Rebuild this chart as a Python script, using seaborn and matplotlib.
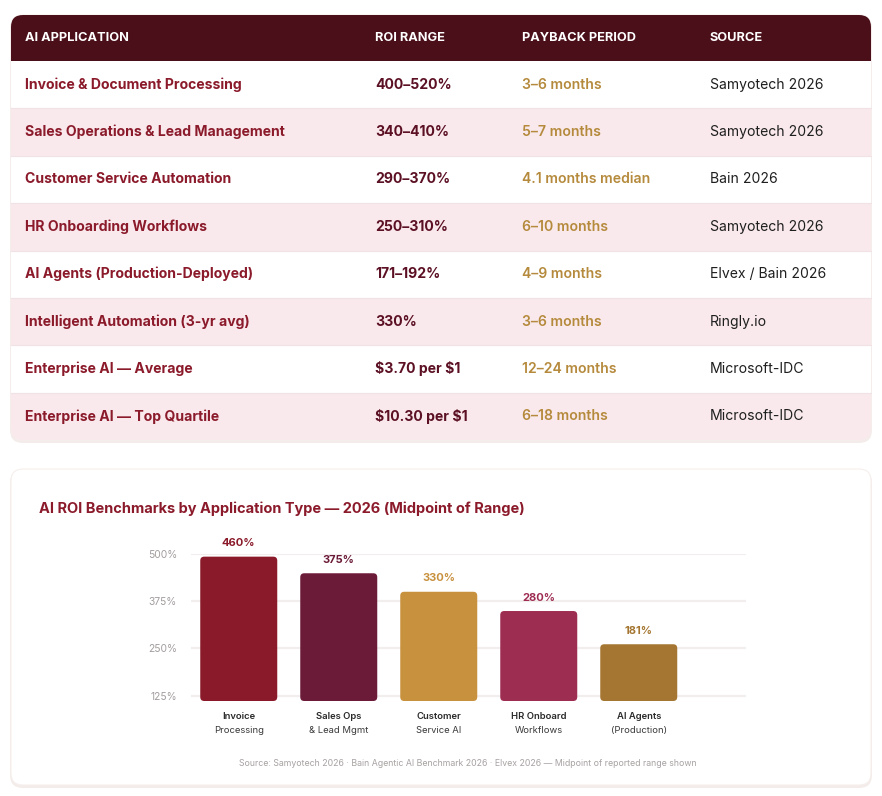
import numpy as np
import matplotlib.pyplot as plt
import seaborn as sns
import pandas as pd
from matplotlib.patches import FancyBboxPatch, Rectangle
from matplotlib.transforms import blended_transform_factory

# Table data
header = ['AI APPLICATION', 'ROI RANGE', 'PAYBACK PERIOD', 'SOURCE']
applications = ['Invoice & Document Processing', 'Sales Operations & Lead Management',
                'Customer Service Automation', 'HR Onboarding Workflows',
                'AI Agents (Production-Deployed)', 'Intelligent Automation (3-yr avg)',
                'Enterprise AI — Average', 'Enterprise AI — Top Quartile']
roi_ranges = ['400–520%', '340–410%', '290–370%', '250–310%', '171–192%', '330%',
              '$3.70 per $1', '$10.30 per $1']
paybacks = ['3–6 months', '5–7 months', '4.1 months median', '6–10 months', '4–9 months',
            '3–6 months', '12–24 months', '6–18 months']
sources = ['Samyotech 2026', 'Samyotech 2026', 'Bain 2026', 'Samyotech 2026',
           'Elvex / Bain 2026', 'Ringly.io', 'Microsoft-IDC', 'Microsoft-IDC']

# Bar chart data
bar_line1 = ['Invoice', 'Sales Ops', 'Customer', 'HR Onboard', 'AI Agents']
bar_line2 = ['Processing', '& Lead Mgmt', 'Service AI', 'Workflows', '(Production)']
midpoints = [460, 375, 330, 280, 181]            # printed labels
bar_heights = [493, 449, 400, 349, 261]          # bar tops as read against the y axis
y_ticks = [125, 250, 375, 500]
bar_colors = ['#8a1a2a', '#6b1a38', '#c8913e', '#9e2d52', '#a57631']

title = 'AI ROI Benchmarks by Application Type — 2026 (Midpoint of Range)'
source_note = ('Source: Samyotech 2026 · Bain Agentic AI Benchmark 2026 · '
               'Elvex 2026 — Midpoint of reported range shown')

sns.set_theme(style='white')
plt.rcParams['font.family'] = ['Inter', 'DejaVu Sans']

W, H = 882, 796
fig = plt.figure(figsize=(W / 100, H / 100), dpi=100)
fig.patch.set_facecolor('white')

# background layer in pixel coordinates
bg = fig.add_axes([0, 0, 1, 1], zorder=0)
bg.set_xlim(0, W)
bg.set_ylim(H, 0)
bg.axis('off')

def card(x0, y0, x1, y1):
    shadow = FancyBboxPatch((x0 - 1, y0 + 1), x1 - x0 + 2, y1 - y0 + 2,
                            boxstyle='round,pad=0,rounding_size=13',
                            fc='#f3ecea', ec='none', zorder=1)
    bg.add_patch(shadow)
    box = FancyBboxPatch((x0, y0), x1 - x0, y1 - y0,
                         boxstyle='round,pad=0,rounding_size=12',
                         fc='white', ec='#f5efed', lw=0.8, zorder=2)
    bg.add_patch(box)
    return box

# ---- table card ----
tx0, ty0, tx1, ty1 = 11, 15, 871, 440
tbox = card(tx0, ty0, tx1, ty1)
head_h = 46
row_h = (ty1 - ty0 - head_h) / len(applications)
col_x = [25, 375, 522, 710]

hr = Rectangle((tx0, ty0), tx1 - tx0, head_h, fc='#4a0f19', ec='none', zorder=3)
bg.add_patch(hr)
hr.set_clip_path(tbox)
for cx, label in zip(col_x, header):
    bg.text(cx, ty0 + head_h / 2, label, color='white', fontsize=9.2, fontweight='bold',
            va='center', ha='left', zorder=5)

fs = 10.1
for i in range(len(applications)):
    ry = ty0 + head_h + i * row_h
    fc = '#f9e9ec' if i % 2 == 1 else 'white'
    r = Rectangle((tx0, ry), tx1 - tx0, row_h, fc=fc, ec='none', zorder=3)
    bg.add_patch(r)
    r.set_clip_path(tbox)
    if i > 0:
        bg.plot([tx0, tx1], [ry, ry], color='#f1e2e5', lw=0.9, zorder=4)
    cy = ry + row_h / 2
    bg.text(col_x[0], cy, applications[i], color='#8b1a2b', fontsize=fs,
            fontweight='bold', va='center', zorder=5)
    bg.text(col_x[1], cy, roi_ranges[i], color='#5c1024', fontsize=fs,
            fontweight='bold', va='center', zorder=5, parse_math=False)
    bg.text(col_x[2], cy, paybacks[i], color='#b58a3c', fontsize=fs,
            fontweight='semibold', va='center', zorder=5)
    bg.text(col_x[3], cy, sources[i], color='#1f1f1f', fontsize=fs,
            va='center', zorder=5)

# ---- chart card ----
card(11, 469, 871, 785)
bg.text(39, 509, title, color='#8b1a2b', fontsize=10.5, fontweight='bold',
        va='center', ha='left', zorder=5)
bg.text(468, 764, source_note, color='#a8a2a2', fontsize=6.3,
        va='center', ha='center', zorder=5)

# bar axes placed in pixels
ax_l, ax_r, ax_t, ax_b = 191, 746, 554, 701
ax = fig.add_axes([ax_l / W, (H - ax_b) / H, (ax_r - ax_l) / W, (ax_b - ax_t) / H], zorder=3)
ax.patch.set_alpha(0)

df = pd.DataFrame({'app': bar_line1, 'roi': bar_heights})
sns.barplot(data=df, x='app', y='roi', hue='app', palette=bar_colors, legend=False,
            width=0.77, ax=ax, saturation=1)

ymin, ymax = 110.7, 500
ax.set_ylim(ymin, ymax)
ax.set_xlim(-0.4775, 5.0725)
fig.canvas.draw()

# swap plain bars for rounded ones
px_x = (ax_r - ax_l) / (ax.get_xlim()[1] - ax.get_xlim()[0])
px_y = (ax_b - ax_t) / (ymax - ymin)
for p, col in zip(list(ax.patches), bar_colors):
    x, w, h = p.get_x(), p.get_width(), p.get_height()
    p.remove()
    rb = FancyBboxPatch((x, ymin), w, h - ymin,
                        boxstyle='round,pad=0,rounding_size=%f' % (4 / px_x),
                        mutation_aspect=px_x / px_y, fc=col, ec='none', zorder=3)
    ax.add_patch(rb)

ax.set_yticks(y_ticks)
ax.set_yticklabels([f'{t}%' for t in y_ticks])
ax.yaxis.grid(True, color='#f3eeee', lw=1.6, zorder=0)
ax.set_axisbelow(True)
ax.tick_params(axis='y', length=0, pad=10, labelsize=7.4, labelcolor='#a39d9d')
ax.tick_params(axis='x', length=0)
ax.set_xticks(range(len(bar_line1)))
ax.set_xticklabels([''] * len(bar_line1))
ax.set_xlabel('')
ax.set_ylabel('')
for s in ax.spines.values():
    s.set_visible(False)

trans = blended_transform_factory(ax.transData, ax.transAxes)
for i, (v, h, col) in enumerate(zip(midpoints, bar_heights, bar_colors)):
    ax.annotate(f'{v}%', (i, h), xytext=(0, 9.7), textcoords='offset points',
                ha='center', va='center', fontsize=8, fontweight='bold', color=col,
                annotation_clip=False)
    ax.text(i, -15.7 / (ax_b - ax_t), bar_line1[i], transform=trans, ha='center', va='center',
            fontsize=6.8, fontweight='semibold', color='#2a2a2a')
    ax.text(i, -29.7 / (ax_b - ax_t), bar_line2[i], transform=trans, ha='center', va='center',
            fontsize=6.8, color='#3a3a3a')

plt.savefig('out.png', dpi=100)
